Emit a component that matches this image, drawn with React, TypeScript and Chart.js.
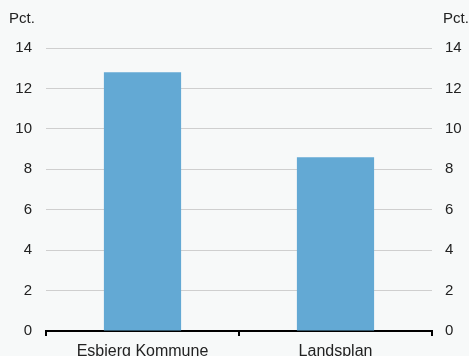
import React, { useEffect, useRef } from "react";
import { Chart, registerables } from "chart.js";

Chart.register(...registerables);

const categories = ["Esbjerg Kommune", "Landsplan"];
const values = [12.8, 8.6];
const unitLabel = "Pct.";
const yMin = 0;
const yMax = 14;
const yStep = 2;

const FONT = "'Liberation Sans', Arial, Helvetica, sans-serif";

const unitPlugin = {
  id: "unitLabels",
  afterDraw(chart: any) {
    const ctx = chart.ctx;
    ctx.save();
    ctx.font = `15px ${FONT}`;
    ctx.fillStyle = "#222";
    ctx.textBaseline = "middle";
    ctx.textAlign = "left";
    ctx.fillText(unitLabel, 9, 19);
    ctx.fillText(unitLabel, 443, 19);
    ctx.restore();
  },
};

export default function App() {
  const ref = useRef<HTMLCanvasElement | null>(null);
  useEffect(() => {
    if (!ref.current) return;
    const chart = new Chart(ref.current, {
      type: "bar",
      data: {
        labels: categories,
        datasets: [
          {
            data: values,
            backgroundColor: "#63a9d4",
            barPercentage: 0.4,
            categoryPercentage: 1,
            yAxisID: "y",
          },
        ],
      },
      options: {
        animation: false,
        responsive: false,
        maintainAspectRatio: false,
        layout: { padding: { top: 48, left: 0, right: 0, bottom: 0 } },
        plugins: { legend: { display: false }, tooltip: { enabled: false } },
        scales: {
          x: {
            offset: true,
            grid: {
              offset: true,
              drawOnChartArea: false,
              drawTicks: true,
              tickLength: 5,
              color: "#000",
              lineWidth: 2,
            },
            border: { display: true, color: "#000", width: 2 },
            ticks: {
              color: "#222",
              font: { family: FONT, size: 16 },
              padding: 6,
              maxRotation: 0,
            },
            afterFit: (s: any) => {
              s.height = 25;
            },
          },
          y: {
            position: "left",
            min: yMin,
            max: yMax,
            ticks: {
              stepSize: yStep,
              color: "#222",
              font: { family: FONT, size: 15 },
              padding: 14,
            },
            grid: { color: "#cfcfcf", lineWidth: 1, drawTicks: false },
            border: { display: false },
            afterFit: (s: any) => {
              s.width = 46;
            },
          },
          y2: {
            position: "right",
            min: yMin,
            max: yMax,
            ticks: {
              stepSize: yStep,
              color: "#222",
              font: { family: FONT, size: 15 },
              padding: 13,
            },
            grid: { display: false, drawTicks: false },
            border: { display: false },
            afterFit: (s: any) => {
              s.width = 37;
            },
          },
        },
      },
      plugins: [unitPlugin],
    } as any);
    return () => chart.destroy();
  }, []);
  return (
    <div
      style={{
        position: "fixed",
        left: 0,
        top: 0,
        width: 469,
        height: 356,
        background: "#f7f9f9",
      }}
    >
      <canvas ref={ref} width={469} height={356} style={{ display: "block" }} />
    </div>
  );
}
